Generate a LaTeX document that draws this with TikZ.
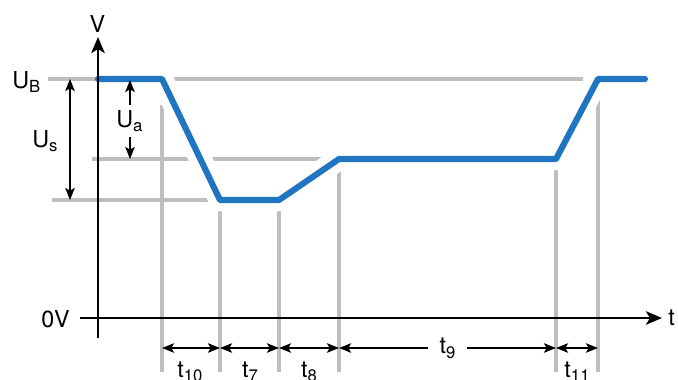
\documentclass[tikz,border=0pt]{standalone}
\usepackage{fontspec}
\setmainfont{TeX Gyre Heros}
\usetikzlibrary{arrows.meta}
\definecolor{sigblue}{RGB}{31,117,191}
\definecolor{gridgray}{RGB}{190,190,190}
\newcommand{\sublbl}[2]{#1\raisebox{-0.2em}{\fontsize{12.5}{13}\selectfont #2}}
\tikzset{
  gridline/.style={gridgray, line width=2.3pt},
  halo/.style={white, line width=17pt, line join=round},
  signal/.style={sigblue, line width=4.6pt, line join=round, line cap=round},
  axisline/.style={black, line width=2.2pt, -{Stealth[length=12pt,width=10pt,inset=3pt]}},
  dimarrow/.style={black, line width=1.6pt, {Stealth[length=9pt,width=7pt,inset=2pt]}-{Stealth[length=9pt,width=7pt,inset=2pt]}},
  onearrow/.style={black, line width=1.6pt, -{Stealth[length=9pt,width=7pt,inset=2pt]}},
  lbl/.style={inner sep=0pt, anchor=base west},
}
\begin{document}
\begin{tikzpicture}[x=0.75pt,y=-0.75pt,font=\fontsize{17.5}{19}\selectfont]
\useasboundingbox (0,0) rectangle (678,379);
% signal corners
\coordinate (p0) at (98,79);
\coordinate (p1) at (162,79);
\coordinate (p2) at (220,200);
\coordinate (p3) at (279,200);
\coordinate (p4) at (339,159);
\coordinate (p5) at (556,159);
\coordinate (p6) at (598,79);
\coordinate (p7) at (645,79);
% grid lines
\draw[gridline] (48,79) -- (583,79);
\draw[gridline] (92,159) -- (330,159);
\draw[gridline] (52,200) -- (215,200);
\draw[gridline] (162,105) -- (162,372);
\draw[gridline] (220,205) -- (220,372);
\draw[gridline] (279,205) -- (279,372);
\draw[gridline] (339,165) -- (339,372);
\draw[gridline] (556,165) -- (556,372);
\draw[gridline] (598,92) -- (598,372);
% signal
\draw[halo] (p0) -- (p1) -- (p2) -- (p3) -- (p4) -- (p5) -- (p6) -- (p7);
\draw[signal] (p0) -- (p1) -- (p2) -- (p3) -- (p4) -- (p5) -- (p6) -- (p7);
% axes
\coordinate (yb) at (98,338);
\coordinate (yt) at (98,37);
\coordinate (xl) at (80,318);
\coordinate (xr) at (662,318);
\draw[axisline] (yb) -- (yt);
\draw[axisline] (xl) -- (xr);
\node[inner sep=0pt, anchor=base] (vlab) at (97.5,32) {V};
\node[lbl] (tlab) at (668,325) {t};
\node[lbl] (zero) at (41,327) {0V};
\node[lbl] (ub) at (12,88) {\sublbl{U}{B}};
% Us
\coordinate (us1) at (70,79);
\coordinate (us2) at (70,200);
\draw[dimarrow] (us1) -- (us2);
\node[lbl] (uslab) at (32,147) {\sublbl{U}{s}};
% Ua
\coordinate (ua0) at (130,105);
\coordinate (ua1) at (130,80);
\coordinate (ua2) at (130,137);
\coordinate (ua3) at (130,159);
\draw[onearrow] (ua0) -- (ua1);
\draw[onearrow] (ua2) -- (ua3);
\node[lbl] (ualab) at (116,127) {\sublbl{U}{a}};
% time dimensions
\coordinate (d1) at (162,348);
\coordinate (d2) at (220,348);
\coordinate (d3) at (279,348);
\coordinate (d4) at (339,348);
\coordinate (d5) at (556,348);
\coordinate (d6) at (598,348);
\draw[dimarrow] (d1) -- (d2);
\draw[dimarrow] (d2) -- (d3);
\draw[dimarrow] (d3) -- (d4);
\draw[dimarrow] (d4) -- (d5) node[midway, fill=white, inner xsep=9pt, inner ysep=2pt] (t9) {\sublbl{t}{9}};
\draw[dimarrow] (d5) -- (d6);
\node[inner sep=0pt, anchor=base] (t10) at (190,377) {\sublbl{t}{10}};
\node[inner sep=0pt, anchor=base] (t7) at (250,377) {\sublbl{t}{7}};
\node[inner sep=0pt, anchor=base] (t8) at (309,377) {\sublbl{t}{8}};
\node[inner sep=0pt, anchor=base] (t11) at (577,377) {\sublbl{t}{11}};
\end{tikzpicture}
\end{document}
